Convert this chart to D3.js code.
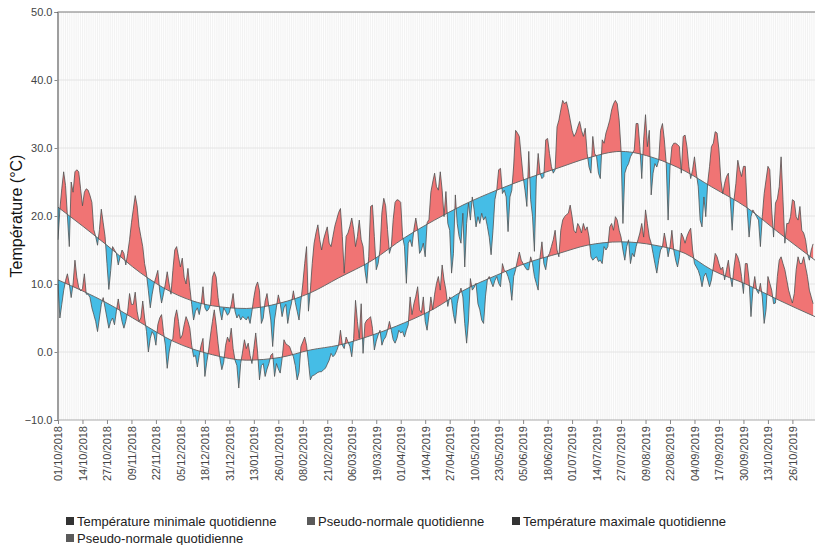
<!DOCTYPE html>
<html>
<head>
<meta charset="utf-8">
<script src="https://cdn.jsdelivr.net/npm/d3@7"></script>
<style>
body { margin: 0; background: #fff; }
text { font-family: "Liberation Sans", Arial, sans-serif; }
</style>
</head>
<body>
<div id="chart"></div>
<script>

// daily max temperature, day 0 = 01/10/2018
const tmax = [
    16.5, 21, 24, 26.5, 24.5, 20, 15.5, 25, 23.5, 26.5,
    26.8, 26.5, 24, 21.5, 23.5, 24, 23.8, 23, 22, 18,
    17, 15.7, 18, 21, 19, 17, 13, 9.2, 12, 15.5,
    15, 14.5, 12.8, 14, 15, 14.5, 12.8, 14.5, 16.5, 19,
    21, 23, 21.5, 18.5, 17, 15.5, 13, 11.5, 9, 6.5,
    8.5, 10, 11, 12, 9, 7.2, 8.5, 10, 11.8, 10,
    8.5, 12, 15, 15.5, 14, 12.5, 13.8, 11, 10, 12.3,
    9.5, 7, 4.7, 6, 6.5, 5.5, 7, 9.6, 6.5, 6,
    6.3, 7, 11, 11.8, 11, 8, 6, 4.7, 6.5, 6,
    5.4, 5.8, 7, 8.6, 6, 5, 5.5, 4.7, 5.2, 5,
    4.7, 5.2, 4.2, 6, 8, 9.6, 10.3, 9, 4.2, 5,
    7.5, 8.6, 6.6, 4.7, 0.8, 4.7, 6.6, 8.4, 7.2, 5.2,
    6.5, 7, 4.2, 6, 7.2, 9, 7.3, 6, 4.7, 7.5,
    10, 13, 15.5, 6, 9, 13, 16, 17.5, 18.7, 16.5,
    15, 16.5, 17.5, 18.4, 16, 15.5, 17, 18.5, 19.5, 20.5,
    21.1, 17, 11.6, 17, 17.5, 18.5, 19.7, 18, 15.5, 17,
    19.4, 16.5, 15.5, 12, 10.1, 14, 21.4, 21.6, 17, 12.1,
    13, 15, 20.5, 22.6, 21.5, 18, 14.5, 15.5, 19.5, 22,
    22.4, 22.3, 22, 17, 15.5, 10.1, 16, 16.5, 15.5, 18,
    19.7, 18, 14.5, 15, 16, 14, 19, 19.5, 23.5, 25,
    26.3, 24.3, 23.8, 26.5, 23.8, 19.9, 23.6, 18.9, 17.9, 11.6,
    14.5, 23.1, 18.9, 17, 16, 20.4, 12.5, 18.9, 21.9, 19.4,
    22.8, 20.9, 18.4, 19.9, 18.9, 20.4, 19.4, 19.9, 18.5, 16.9,
    14.3, 17.9, 22.4, 23.8, 26.8, 27, 23.3, 23.8, 22.8, 17.7,
    22.8, 23.8, 27.5, 32.6, 32.2, 31.7, 28.7, 25.8, 23.8, 21.4,
    29.5, 22.4, 19.9, 14.8, 25.3, 29.2, 26.3, 25.5, 25.8, 31.2,
    31.4, 29.2, 27.3, 26.3, 26.8, 33.1, 34.1, 35.6, 37, 36.5,
    36.8, 35.6, 34.1, 32.6, 31.7, 32.2, 33.1, 33.9, 32.6, 31.7,
    32.9, 29.2, 27.2, 26.3, 31.7, 29.2, 28.7, 26.3, 25.5, 31.2,
    30.7, 32.2, 33.1, 34.1, 35.6, 36.5, 37, 36.5, 34.1, 29.7,
    18.9, 26.3, 27.2, 27.7, 28.7, 29.2, 29.7, 33.6, 33.6, 30.2,
    25.5, 31.2, 34.9, 30.2, 32.6, 23.1, 26.3, 27.7, 27.2, 28.2,
    32.6, 33.6, 31.2, 27.7, 19.4, 27.2, 30.2, 30.7, 30.7, 30.5,
    30.2, 26.3, 31.7, 31.9, 30.2, 27.3, 25.5, 26.8, 28.7, 26.3,
    24.3, 19.4, 18.4, 22.8, 19.9, 24.8, 27.3, 30.2, 30.7, 32.4,
    32.2, 29.7, 25.3, 23.3, 24.8, 25.8, 26.3, 22.4, 17.9, 22.4,
    24.8, 28.2, 26.8, 25.8, 27.3, 27.3, 20.9, 16.9, 19.9, 20.9,
    20.4, 19.9, 19.4, 15.5, 19.9, 23.3, 25.3, 27.3, 26.8, 20.9,
    16.9, 21.9, 22.5, 24.3, 28.7, 22.4, 16, 18.9, 18.9, 19.9,
    22.4, 22.2, 19.9, 19.4, 21.4, 17.9, 17.5, 16.5, 14.5, 13.5,
    15, 15.9
];

// daily min temperature
const tmin = [
    10, 5, 7, 9, 10.5, 11.5, 10, 8, 10, 13.5,
    11, 9.5, 9, 9.3, 11.5, 8.5, 8.5, 8, 6.5, 5.5,
    4.5, 3, 5, 7, 8, 6.5, 5, 3.5, 4.5, 5,
    4, 6, 7.8, 6, 4.5, 3.5, 4.5, 6, 8.6, 7,
    7, 8.8, 6, 4.5, 5, 7.5, 5, 3, 0, 2,
    3, 2.5, 1, 4, 5, 5.5, 3, 1, -2.4, 0,
    1.5, 2, 5, 6.2, 4.5, 2, 2.5, 4, 5.2, 4.5,
    3.5, 1, -0.7, -0.5, -2.2, -0.5, 1, 2, -3.6, -1.5,
    0.3, 2.5, 4.5, 6.2, 4, 1.3, -1, -2.6, -1.5, 1,
    2.2, 1.5, 3.5, 0.5, -1.2, -2, -5.3, -1.7, 0, 1.8,
    0.5, 1.3, -0.5, -1.7, 0.5, 2.8, 0, -4.1, -2, -1.7,
    -3.6, -2.5, -1.7, -0.5, -0.2, -3.6, -1.7, -2.5, -3.1, -1,
    1.8, 1.2, 1, 0.8, 0, -0.7, -2, -4.1, -3, 0.8,
    1.5, 2.2, 1, -1.5, -4.1, -3.5, -3.4, -3.2, -3, -2.9,
    -2.9, -2.6, -2.4, -1.8, -1.2, -0.2, -0.7, -0.4, 0.2, 1,
    3.2, 1, 0.5, 2.2, 1.5, 0.8, -0.7, 2, 7.6, 4.5,
    2, 7.1, -0.2, 4.2, 4.7, 4.9, 5.2, 3.5, 0.3, 1.6,
    2.5, 3.2, 1, 1.8, 2.2, 3.2, 4.5, 3.2, 1.8, 1.3,
    2, 3.2, 2.8, 3, 2.2, 3.2, 4, 8.1, 5.5, 7.1,
    8.2, 9.6, 6.2, 5.8, 8.1, 4.5, 3.2, 5.5, 8.1, 6.2,
    8.5, 10.1, 11.1, 9.1, 12.8, 10.6, 9.1, 6.7, 8.1, 7.6,
    5.5, 4.2, 7.1, 8.5, 9.4, 8.1, 4.2, 1.3, 4.7, 10.8,
    9.1, 9.5, 10.1, 7.1, 6.2, 4.7, 4.2, 8.1, 10.6, 11.1,
    10.3, 9.6, 10.5, 11.1, 10.1, 9.6, 13, 12, 11.8, 11.1,
    10.1, 7.6, 11.1, 12.1, 13.5, 14.7, 13.5, 13, 12.5, 12.1,
    12.1, 14, 13, 11.1, 10.1, 9.1, 14, 16.2, 13, 12.1,
    14, 14.5, 15.5, 16.5, 17.9, 15, 14, 17.9, 19.4, 19.9,
    20.2, 20.4, 21.6, 19.9, 17.9, 17.5, 18.9, 18.4, 17.5, 18.9,
    17.9, 18.4, 16.9, 14, 13.5, 13.8, 14, 13.3, 13.5, 13,
    15.5, 15, 15.5, 18.4, 18.9, 17.9, 19.9, 19.4, 17.9, 16.9,
    15, 13.5, 15.5, 16.5, 13, 14.5, 14, 15.5, 16.5, 17.5,
    18.9, 16.9, 20.9, 18.9, 16.9, 16, 14.5, 13, 11.6, 13.5,
    15, 15.5, 17.5, 16, 14, 15.5, 17.9, 15, 13.5, 12.5,
    14, 17.5, 16.9, 16, 17, 17.7, 18.2, 15, 13, 12.5,
    12, 11.1, 9.6, 11.1, 11.6, 10.6, 9.6, 10.6, 12.5, 14.5,
    14, 13, 12.1, 12.5, 10.6, 12.1, 13.5, 11.1, 9.6, 12.5,
    14.5, 14, 13, 11.1, 8.6, 13, 13, 10.6, 5.2, 9.1,
    11.1, 9.1, 8.6, 10.1, 8.1, 4.2, 6.2, 11.1, 10.1, 9.1,
    7.1, 7.2, 11.1, 13.5, 14, 13, 12.1, 10.6, 9.1, 8.1,
    7.2, 8.6, 12.1, 14, 13, 13, 14, 12.5, 11.1, 9.1,
    8.1, 7.1
];

// pseudo-normals, read at these day offsets
const normDays = [0, 26, 44, 61, 82, 100, 118, 134, 149, 167, 184, 200, 215, 233, 250, 266, 281, 299, 317, 333, 347, 366, 383, 402];
const normMax = [21.3, 15.7, 11.6, 8.7, 6.8, 6.4, 7.2, 8.7, 10.9, 13.5, 16.8, 19.4, 21.6, 23.8, 25.6, 27.1, 28.5, 29.5, 28.5, 26.6, 24.3, 21.2, 17.5, 13.5];
const normMin = [10.6, 7.2, 4.3, 1.6, -0.4, -1.2, -0.8, 0.3, 1.0, 2.5, 4.3, 6.4, 9.0, 11.3, 13.2, 14.5, 15.7, 16.2, 15.7, 14.5, 12.1, 9.9, 7.6, 5.2];

const yTicks = [-10, 0, 10, 20, 30, 40, 50];
const tickStep = 13;
const legendLabels = ["Température minimale quotidienne", "Pseudo-normale quotidienne",
    "Température maximale quotidienne", "Pseudo-normale quotidienne"];

const W = 815, H = 545;
const pLeft = 57.5, pTop = 12, pBottom = 420, pRight = 815;

const svg = d3.select("#chart").append("svg")
    .attr("width", W)
    .attr("height", H);

const start = new Date(2018, 9, 1);
const dayOf = i => d3.timeDay.offset(start, i);

const x = d3.scaleTime()
    .domain([start, dayOf(402)])
    .range([58, 815]);

const y = d3.scaleLinear()
    .domain([-10, 50])
    .range([pBottom, pTop]);

// vertical daily grid
svg.append("g")
    .selectAll("line")
    .data(d3.range(0, 403))
    .join("line")
    .attr("x1", d => x(dayOf(d)))
    .attr("x2", d => x(dayOf(d)))
    .attr("y1", pTop)
    .attr("y2", pBottom)
    .attr("stroke", "#ececec")
    .attr("stroke-width", 0.7);

// horizontal grid
svg.append("g")
    .selectAll("line")
    .data(yTicks.slice(1, -1))
    .join("line")
    .attr("x1", pLeft)
    .attr("x2", pRight)
    .attr("y1", d => y(d))
    .attr("y2", d => y(d))
    .attr("stroke", "#e4e4e4");

const defs = svg.append("defs");
defs.append("clipPath").attr("id", "plot")
    .append("rect")
    .attr("x", pLeft).attr("y", pTop)
    .attr("width", pRight - pLeft).attr("height", pBottom - pTop);

const series = [
    { name: "min", vals: tmin, norm: normMin },
    { name: "max", vals: tmax, norm: normMax }
];

const normPts = norm => normDays.map((d, i) => [dayOf(d), norm[i]]);

series.forEach(s => {
    const np = normPts(s.norm);

    // region above the normal and region below it
    defs.append("clipPath").attr("id", "above-" + s.name)
        .append("path")
        .attr("d", d3.area().curve(d3.curveMonotoneX)
            .x(d => x(d[0])).y0(pTop - 5).y1(d => y(d[1]))(np));
    defs.append("clipPath").attr("id", "below-" + s.name)
        .append("path")
        .attr("d", d3.area().curve(d3.curveMonotoneX)
            .x(d => x(d[0])).y0(pBottom + 5).y1(d => y(d[1]))(np));

    const g = svg.append("g").attr("clip-path", "url(#plot)");

    // warmer than normal
    g.append("g").attr("clip-path", "url(#above-" + s.name + ")")
        .append("path")
        .datum(s.vals)
        .attr("fill", "#f07474")
        .attr("d", d3.area()
            .x((d, i) => x(dayOf(i)))
            .y0(pBottom + 5)
            .y1(d => y(d)));

    // colder than normal
    g.append("g").attr("clip-path", "url(#below-" + s.name + ")")
        .append("path")
        .datum(s.vals)
        .attr("fill", "#45bde6")
        .attr("d", d3.area()
            .x((d, i) => x(dayOf(i)))
            .y0(pTop - 5)
            .y1(d => y(d)));

    g.append("path")
        .datum(np)
        .attr("fill", "none")
        .attr("stroke", "#6a6a6a")
        .attr("stroke-width", 1)
        .attr("d", d3.line().curve(d3.curveMonotoneX)
            .x(d => x(d[0])).y(d => y(d[1])));

    g.append("path")
        .datum(s.vals)
        .attr("fill", "none")
        .attr("stroke", "#505050")
        .attr("stroke-width", 0.8)
        .attr("d", d3.line()
            .x((d, i) => x(dayOf(i)))
            .y(d => y(d)));
});

// top border
svg.append("line")
    .attr("x1", pLeft).attr("x2", pRight)
    .attr("y1", pTop).attr("y2", pTop)
    .attr("stroke", "#777");

// y axis
const yAxis = svg.append("g")
    .attr("transform", "translate(" + pLeft + ",0)")
    .call(d3.axisLeft(y).tickValues(yTicks).tickFormat(d3.format(".1f")).tickSize(3).tickPadding(2));
yAxis.select(".domain").attr("stroke", "#444");
yAxis.selectAll(".tick line").attr("stroke", "#888");
yAxis.selectAll("text").attr("font-size", 11).attr("fill", "#444")
    .style("font-family", "'Liberation Sans', Arial, sans-serif");

// x axis
const fmt = d3.timeFormat("%d/%m/%Y");
const xAxis = svg.append("g")
    .attr("transform", "translate(0," + pBottom + ")")
    .call(d3.axisBottom(x)
        .tickValues(d3.range(0, 391, tickStep).map(dayOf))
        .tickFormat(fmt)
        .tickSize(4)
        .tickSizeOuter(0));
xAxis.select(".domain").attr("stroke", "#aaa").attr("d", "M" + pLeft + ",0H" + pRight);
xAxis.selectAll(".tick line").attr("stroke", "#888");
xAxis.selectAll("text")
    .attr("font-size", 11)
    .attr("fill", "#444")
    .style("font-family", "'Liberation Sans', Arial, sans-serif")
    .attr("text-anchor", "end")
    .attr("transform", "rotate(-90)")
    .attr("x", -6)
    .attr("y", 0)
    .attr("dy", "0.35em");

// y title
svg.append("text")
    .attr("transform", "translate(22,216) rotate(-90)")
    .attr("text-anchor", "middle")
    .attr("font-size", 16)
    .attr("fill", "#111")
    .text("Température (°C)");

// legend
const legendPos = [[66, 517], [307, 517], [512, 517], [66, 534]];
const legendColors = ["#333", "#5a5a5a", "#333", "#5a5a5a"];
const legend = svg.append("g")
    .selectAll("g")
    .data(legendLabels)
    .join("g")
    .attr("transform", (d, i) => "translate(" + legendPos[i][0] + "," + legendPos[i][1] + ")");
legend.append("rect")
    .attr("width", 8).attr("height", 8)
    .attr("fill", (d, i) => legendColors[i]);
legend.append("text")
    .attr("x", 11)
    .attr("y", 8.5)
    .attr("font-size", 13)
    .attr("fill", "#222")
    .text(d => d);

</script>
</body>
</html>
